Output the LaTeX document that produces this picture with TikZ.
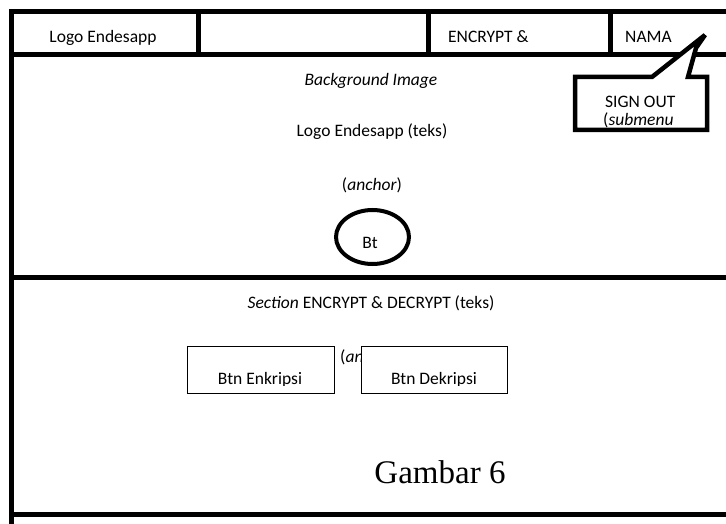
\documentclass[tikz,border=0pt]{standalone}
\usepackage{fontspec}
\setmainfont{Carlito}
\newfontfamily\gambarfont{Liberation Serif}
\usetikzlibrary{shapes.geometric}
\begin{document}
\begin{tikzpicture}[x=1pt,y=-1pt]
\tikzstyle{frame} = [line width=5pt,line join=miter]
\tikzstyle{lbl} = [font=\fontsize{17.5}{21}\selectfont,inner sep=0pt,anchor=base]
\tikzstyle{btnbox} = [draw,line width=1pt,fill=white]
\useasboundingbox (0,0) rectangle (726,524);
% frame and header
\draw[frame] (11,524) -- (11,12) -- (726,12);
\draw[frame] (11,54.5) -- (726,54.5);
\foreach \x in {198,428,610} \draw[frame] (\x,12) -- (\x,54.5);
\draw[frame] (11,277.5) -- (726,277.5);
\draw[frame] (11,514.5) -- (726,514.5);
\node[lbl] (logo) at (103,43) {Logo Endesapp};
\node[lbl,anchor=base west] (menu) at (448,43) {ENCRYPT \&};
\node[lbl,anchor=base west] (nama) at (625,43) {NAMA};
% callout
\draw[frame,line width=4.5pt,fill=white,miter limit=3] (575,77) -- (652,77) -- (705,35) -- (696,48) -- (688,77) -- (707,77) -- (707,130) -- (575,130) -- cycle;
\node[lbl,anchor=base west] (signout) at (605,108) {SIGN OUT};
\node[lbl,anchor=base west] (submenu) at (603,126) {(\textit{submenu}};
% hero
\node[lbl] (bg) at (371,86) {\textit{Background Image}};
\node[lbl] (teks) at (372,137) {Logo Endesapp (teks)};
\node[lbl] (anchor1) at (372,190) {(\textit{anchor})};
\node[draw,ellipse,line width=4pt,minimum width=73pt,minimum height=54pt,inner sep=0pt] (bt) at (372.5,237) {};
\node[lbl] (btlbl) at (370,248) {Bt};
% section
\node[lbl] (section) at (371,308) {\textit{Section} ENCRYPT \& DECRYPT (teks)};
\node[lbl,anchor=base west] (anchor2) at (340,362) {(\textit{anchor})};
\draw[btnbox] (187,346) rectangle (334,393);
\draw[btnbox] (361,346) rectangle (507,393);
\begin{scope}
\clip (187,346) rectangle (507,385.5);
\node[lbl] (enk) at (260,384) {Btn Enkripsi};
\node[lbl] (dek) at (434,384) {Btn Dekripsi};
\end{scope}
\node[font=\gambarfont\fontsize{33}{38}\selectfont,inner sep=0pt,anchor=base] (gambar) at (440,483) {Gambar 6};
\end{tikzpicture}
\end{document}
